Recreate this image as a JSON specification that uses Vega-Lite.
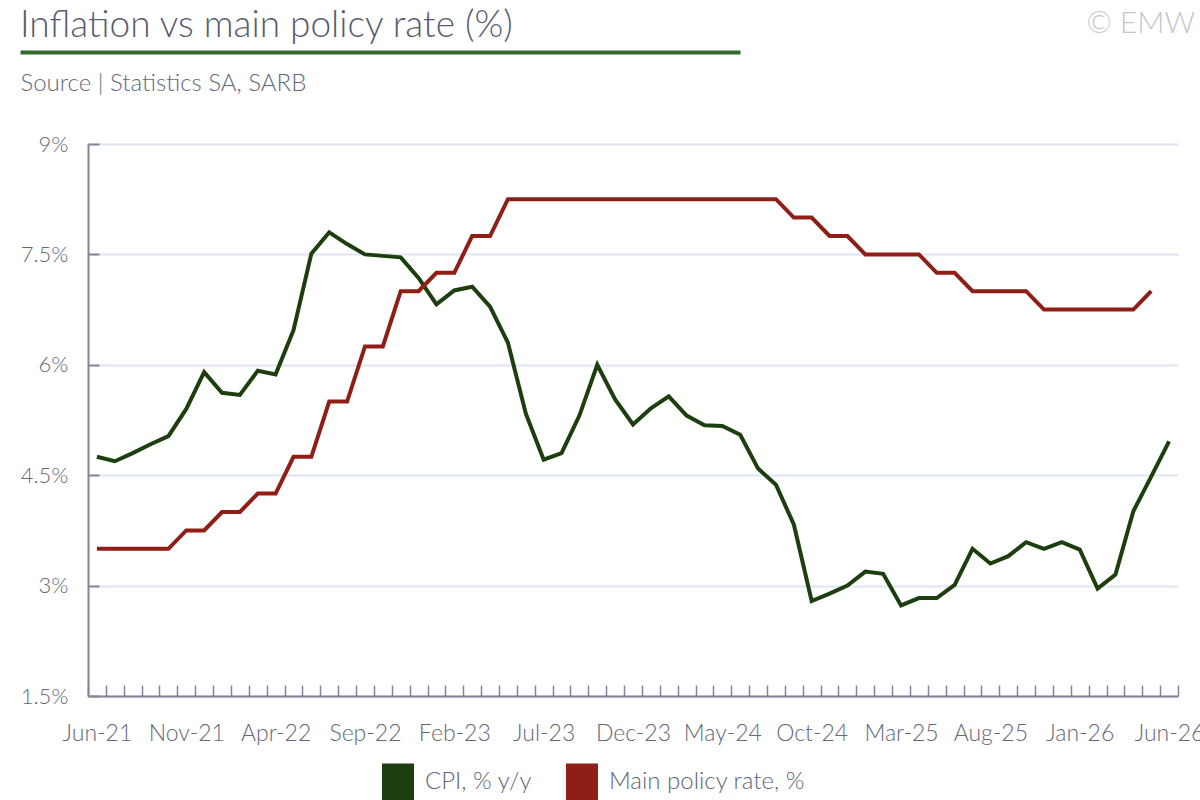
{
  "$schema": "https://vega.github.io/schema/vega-lite/v6.json",
  "background": "white",
  "padding": {"left": 17, "top": 6, "right": 0, "bottom": 0},
  "config": {
    "font": "Lato",
    "view": {"stroke": null}
  },
  "spacing": 38,
  "resolve": {"legend": {"color": "independent"}},
  "vconcat": [
    {
      "spacing": 0,
      "hconcat": [
        {
          "width": 720,
          "height": 1,
          "title": {"text": "Inflation vs main policy rate (%)", "anchor": "start", "frame": "group", "fontSize": 37, "fontWeight": 300, "color": "#585c70", "offset": 4, "dx": -68},
          "data": {"values": [{"v": 0}, {"v": 1}]},
          "mark": {"type": "point", "opacity": 0},
          "encoding": {
            "x": {
              "field": "v", "type": "quantitative",
              "scale": {"range": [-68, 652]},
              "axis": {"domainColor": "#2f6b2c", "domainWidth": 4, "ticks": false, "labels": false, "grid": false,
                "title": "Source | Statistics SA, SARB", "titleAnchor": "start", "titleFontSize": 24, "titleFontWeight": 300, "titleColor": "#646879", "titlePadding": 19}
            }
          }
        },
        {
          "width": 387,
          "height": 1,
          "title": {"text": "© EMW", "anchor": "end", "frame": "group", "fontSize": 30, "fontWeight": 300, "color": "#c3c6ce", "offset": 10},
          "data": {"values": [{"v": 0}]},
          "mark": {"type": "point", "opacity": 0}
        }
      ]
    },
    {
      "width": 1090,
      "height": 552,
      "data": {"values": [
        {"date": "2021-06-01", "series": "CPI, % y/y", "value": 4.75},
        {"date": "2021-07-01", "series": "CPI, % y/y", "value": 4.69},
        {"date": "2021-08-01", "series": "CPI, % y/y", "value": 4.80},
        {"date": "2021-09-01", "series": "CPI, % y/y", "value": 4.92},
        {"date": "2021-10-01", "series": "CPI, % y/y", "value": 5.03},
        {"date": "2021-11-01", "series": "CPI, % y/y", "value": 5.40},
        {"date": "2021-12-01", "series": "CPI, % y/y", "value": 5.90},
        {"date": "2022-01-01", "series": "CPI, % y/y", "value": 5.62},
        {"date": "2022-02-01", "series": "CPI, % y/y", "value": 5.59},
        {"date": "2022-03-01", "series": "CPI, % y/y", "value": 5.92},
        {"date": "2022-04-01", "series": "CPI, % y/y", "value": 5.87},
        {"date": "2022-05-01", "series": "CPI, % y/y", "value": 6.47},
        {"date": "2022-06-01", "series": "CPI, % y/y", "value": 7.51},
        {"date": "2022-07-01", "series": "CPI, % y/y", "value": 7.80},
        {"date": "2022-08-01", "series": "CPI, % y/y", "value": 7.64},
        {"date": "2022-09-01", "series": "CPI, % y/y", "value": 7.50},
        {"date": "2022-10-01", "series": "CPI, % y/y", "value": 7.48},
        {"date": "2022-11-01", "series": "CPI, % y/y", "value": 7.46},
        {"date": "2022-12-01", "series": "CPI, % y/y", "value": 7.18},
        {"date": "2023-01-01", "series": "CPI, % y/y", "value": 6.82},
        {"date": "2023-02-01", "series": "CPI, % y/y", "value": 7.01},
        {"date": "2023-03-01", "series": "CPI, % y/y", "value": 7.06},
        {"date": "2023-04-01", "series": "CPI, % y/y", "value": 6.79},
        {"date": "2023-05-01", "series": "CPI, % y/y", "value": 6.30},
        {"date": "2023-06-01", "series": "CPI, % y/y", "value": 5.34},
        {"date": "2023-07-01", "series": "CPI, % y/y", "value": 4.71},
        {"date": "2023-08-01", "series": "CPI, % y/y", "value": 4.80},
        {"date": "2023-09-01", "series": "CPI, % y/y", "value": 5.31},
        {"date": "2023-10-01", "series": "CPI, % y/y", "value": 6.00},
        {"date": "2023-11-01", "series": "CPI, % y/y", "value": 5.53},
        {"date": "2023-12-01", "series": "CPI, % y/y", "value": 5.19},
        {"date": "2024-01-01", "series": "CPI, % y/y", "value": 5.41},
        {"date": "2024-02-01", "series": "CPI, % y/y", "value": 5.57},
        {"date": "2024-03-01", "series": "CPI, % y/y", "value": 5.31},
        {"date": "2024-04-01", "series": "CPI, % y/y", "value": 5.18},
        {"date": "2024-05-01", "series": "CPI, % y/y", "value": 5.17},
        {"date": "2024-06-01", "series": "CPI, % y/y", "value": 5.05},
        {"date": "2024-07-01", "series": "CPI, % y/y", "value": 4.59},
        {"date": "2024-08-01", "series": "CPI, % y/y", "value": 4.37},
        {"date": "2024-09-01", "series": "CPI, % y/y", "value": 3.83},
        {"date": "2024-10-01", "series": "CPI, % y/y", "value": 2.79},
        {"date": "2024-11-01", "series": "CPI, % y/y", "value": 2.89},
        {"date": "2024-12-01", "series": "CPI, % y/y", "value": 3.00},
        {"date": "2025-01-01", "series": "CPI, % y/y", "value": 3.19},
        {"date": "2025-02-01", "series": "CPI, % y/y", "value": 3.16},
        {"date": "2025-03-01", "series": "CPI, % y/y", "value": 2.73},
        {"date": "2025-04-01", "series": "CPI, % y/y", "value": 2.83},
        {"date": "2025-05-01", "series": "CPI, % y/y", "value": 2.83},
        {"date": "2025-06-01", "series": "CPI, % y/y", "value": 3.01},
        {"date": "2025-07-01", "series": "CPI, % y/y", "value": 3.50},
        {"date": "2025-08-01", "series": "CPI, % y/y", "value": 3.30},
        {"date": "2025-09-01", "series": "CPI, % y/y", "value": 3.40},
        {"date": "2025-10-01", "series": "CPI, % y/y", "value": 3.59},
        {"date": "2025-11-01", "series": "CPI, % y/y", "value": 3.50},
        {"date": "2025-12-01", "series": "CPI, % y/y", "value": 3.59},
        {"date": "2026-01-01", "series": "CPI, % y/y", "value": 3.49},
        {"date": "2026-02-01", "series": "CPI, % y/y", "value": 2.96},
        {"date": "2026-03-01", "series": "CPI, % y/y", "value": 3.15},
        {"date": "2026-04-01", "series": "CPI, % y/y", "value": 4.01},
        {"date": "2026-05-01", "series": "CPI, % y/y", "value": 4.48},
        {"date": "2026-06-01", "series": "CPI, % y/y", "value": 4.96},
        {"date": "2021-06-01", "series": "Main policy rate, %", "value": 3.5},
        {"date": "2021-07-01", "series": "Main policy rate, %", "value": 3.5},
        {"date": "2021-08-01", "series": "Main policy rate, %", "value": 3.5},
        {"date": "2021-09-01", "series": "Main policy rate, %", "value": 3.5},
        {"date": "2021-10-01", "series": "Main policy rate, %", "value": 3.5},
        {"date": "2021-11-01", "series": "Main policy rate, %", "value": 3.75},
        {"date": "2021-12-01", "series": "Main policy rate, %", "value": 3.75},
        {"date": "2022-01-01", "series": "Main policy rate, %", "value": 4.0},
        {"date": "2022-02-01", "series": "Main policy rate, %", "value": 4.0},
        {"date": "2022-03-01", "series": "Main policy rate, %", "value": 4.25},
        {"date": "2022-04-01", "series": "Main policy rate, %", "value": 4.25},
        {"date": "2022-05-01", "series": "Main policy rate, %", "value": 4.75},
        {"date": "2022-06-01", "series": "Main policy rate, %", "value": 4.75},
        {"date": "2022-07-01", "series": "Main policy rate, %", "value": 5.5},
        {"date": "2022-08-01", "series": "Main policy rate, %", "value": 5.5},
        {"date": "2022-09-01", "series": "Main policy rate, %", "value": 6.25},
        {"date": "2022-10-01", "series": "Main policy rate, %", "value": 6.25},
        {"date": "2022-11-01", "series": "Main policy rate, %", "value": 7.0},
        {"date": "2022-12-01", "series": "Main policy rate, %", "value": 7.0},
        {"date": "2023-01-01", "series": "Main policy rate, %", "value": 7.25},
        {"date": "2023-02-01", "series": "Main policy rate, %", "value": 7.25},
        {"date": "2023-03-01", "series": "Main policy rate, %", "value": 7.75},
        {"date": "2023-04-01", "series": "Main policy rate, %", "value": 7.75},
        {"date": "2023-05-01", "series": "Main policy rate, %", "value": 8.25},
        {"date": "2023-06-01", "series": "Main policy rate, %", "value": 8.25},
        {"date": "2023-07-01", "series": "Main policy rate, %", "value": 8.25},
        {"date": "2023-08-01", "series": "Main policy rate, %", "value": 8.25},
        {"date": "2023-09-01", "series": "Main policy rate, %", "value": 8.25},
        {"date": "2023-10-01", "series": "Main policy rate, %", "value": 8.25},
        {"date": "2023-11-01", "series": "Main policy rate, %", "value": 8.25},
        {"date": "2023-12-01", "series": "Main policy rate, %", "value": 8.25},
        {"date": "2024-01-01", "series": "Main policy rate, %", "value": 8.25},
        {"date": "2024-02-01", "series": "Main policy rate, %", "value": 8.25},
        {"date": "2024-03-01", "series": "Main policy rate, %", "value": 8.25},
        {"date": "2024-04-01", "series": "Main policy rate, %", "value": 8.25},
        {"date": "2024-05-01", "series": "Main policy rate, %", "value": 8.25},
        {"date": "2024-06-01", "series": "Main policy rate, %", "value": 8.25},
        {"date": "2024-07-01", "series": "Main policy rate, %", "value": 8.25},
        {"date": "2024-08-01", "series": "Main policy rate, %", "value": 8.25},
        {"date": "2024-09-01", "series": "Main policy rate, %", "value": 8.0},
        {"date": "2024-10-01", "series": "Main policy rate, %", "value": 8.0},
        {"date": "2024-11-01", "series": "Main policy rate, %", "value": 7.75},
        {"date": "2024-12-01", "series": "Main policy rate, %", "value": 7.75},
        {"date": "2025-01-01", "series": "Main policy rate, %", "value": 7.5},
        {"date": "2025-02-01", "series": "Main policy rate, %", "value": 7.5},
        {"date": "2025-03-01", "series": "Main policy rate, %", "value": 7.5},
        {"date": "2025-04-01", "series": "Main policy rate, %", "value": 7.5},
        {"date": "2025-05-01", "series": "Main policy rate, %", "value": 7.25},
        {"date": "2025-06-01", "series": "Main policy rate, %", "value": 7.25},
        {"date": "2025-07-01", "series": "Main policy rate, %", "value": 7.0},
        {"date": "2025-08-01", "series": "Main policy rate, %", "value": 7.0},
        {"date": "2025-09-01", "series": "Main policy rate, %", "value": 7.0},
        {"date": "2025-10-01", "series": "Main policy rate, %", "value": 7.0},
        {"date": "2025-11-01", "series": "Main policy rate, %", "value": 6.75},
        {"date": "2025-12-01", "series": "Main policy rate, %", "value": 6.75},
        {"date": "2026-01-01", "series": "Main policy rate, %", "value": 6.75},
        {"date": "2026-02-01", "series": "Main policy rate, %", "value": 6.75},
        {"date": "2026-03-01", "series": "Main policy rate, %", "value": 6.75},
        {"date": "2026-04-01", "series": "Main policy rate, %", "value": 6.75},
        {"date": "2026-05-01", "series": "Main policy rate, %", "value": 7.0}
      ]},
      "mark": {"type": "line", "strokeWidth": 4},
      "encoding": {
        "x": {
          "field": "date", "timeUnit": "utcyearmonth", "type": "ordinal", "bandPosition": 0.5,
          "scale": {"type": "band", "paddingInner": 0, "paddingOuter": 0},
          "axis": {
            "title": null, "tickBand": "extent", "tickSize": -11, "tickWidth": 1.5, "tickColor": "#7f8699",
            "domainColor": "#7f8699", "domainWidth": 2, "grid": false, "labelAngle": 0, "labelOverlap": false,
            "labelFontSize": 23, "labelFontWeight": 300, "labelColor": "#646879", "labelPadding": 37,
            "labelExpr": "indexof(['Jun-21','Nov-21','Apr-22','Sep-22','Feb-23','Jul-23','Dec-23','May-24','Oct-24','Mar-25','Aug-25','Jan-26','Jun-26'], utcFormat(datum.value, '%b-%y')) >= 0 ? utcFormat(datum.value, '%b-%y') : ''"
          }
        },
        "y": {
          "field": "value", "type": "quantitative",
          "scale": {"domain": [1.5, 9], "nice": false, "zero": false},
          "axis": {
            "title": null, "values": [1.5, 3, 4.5, 6, 7.5, 9], "labelExpr": "datum.value + '%'",
            "tickSize": -11, "tickWidth": 2, "tickColor": "#7f8699",
            "domainColor": "#7f8699", "domainWidth": 2,
            "grid": true, "gridColor": "#dde6f1", "gridWidth": 2,
            "labelFontSize": 22, "labelFontWeight": 300, "labelColor": "#646879", "labelPadding": 31,
            "minExtent": 68, "maxExtent": 68
          }
        },
        "color": {
          "field": "series", "type": "nominal",
          "scale": {"domain": ["CPI, % y/y", "Main policy rate, %"], "range": ["#1d3f0f", "#8f1f16"]},
          "legend": {
            "title": null, "orient": "none", "direction": "horizontal", "legendX": 291, "legendY": 619,
            "symbolType": "M-0.85,-1H0.85V1.2H-0.85Z", "symbolSize": 1415,
            "labelFontSize": 24, "labelFontWeight": 300, "labelColor": "#606579", "labelOffset": 8, "columnPadding": 30, "labelLimit": 400,
            "encode": {"symbols": {"update": {"fill": {"scale": "color", "field": "value"}, "fillOpacity": {"value": 1}, "strokeWidth": {"value": 0}}}}
          }
        }
      }
    }
  ]
}
